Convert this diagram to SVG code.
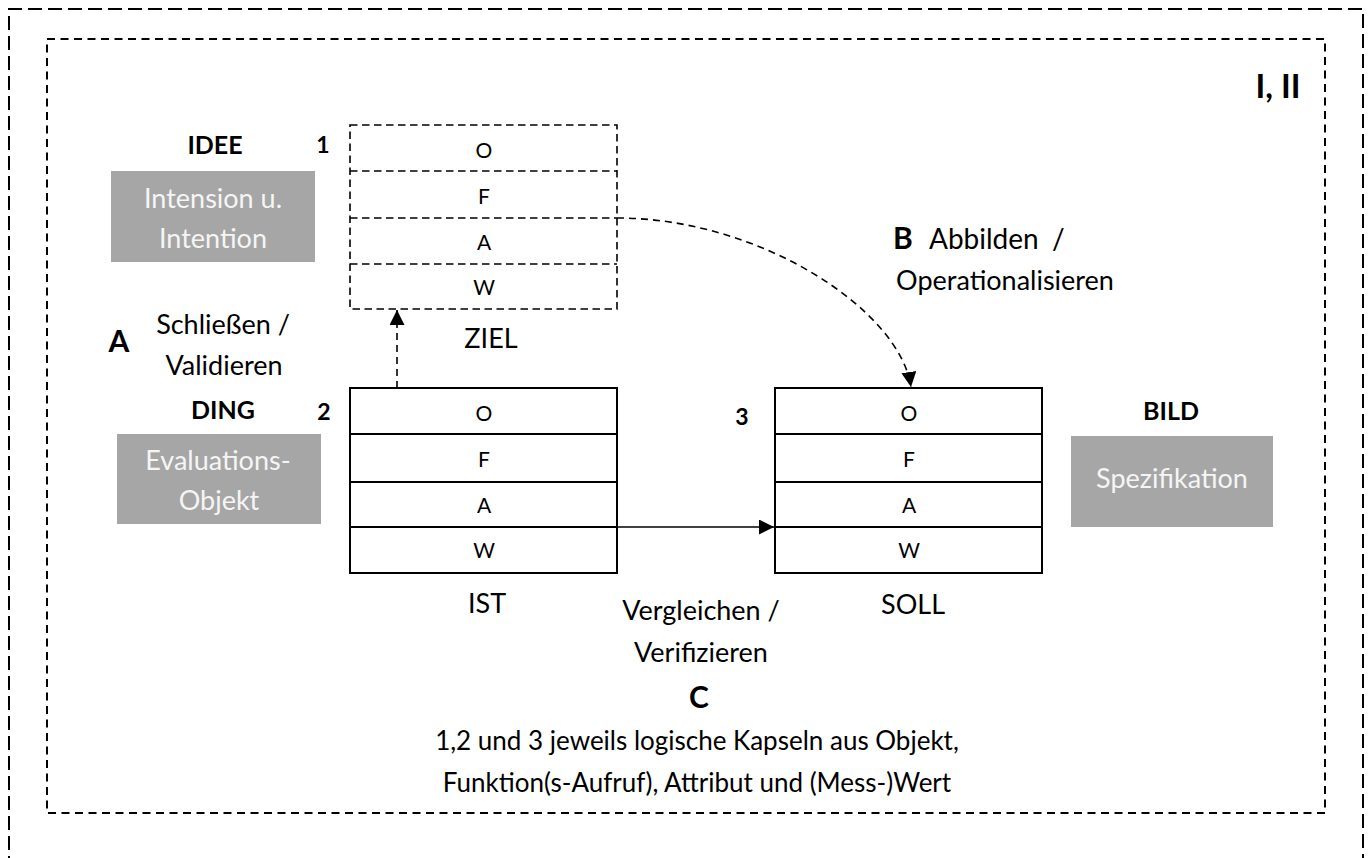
<svg xmlns="http://www.w3.org/2000/svg" width="1370" height="858" viewBox="0 0 1370 858">
<defs>
<style>
text{font-family:Lato,"Liberation Sans",sans-serif;fill:#000;text-anchor:middle}
.lbl{font-size:27px}
.foot{font-size:26px}
.row{font-size:21px}
.bold{font-weight:bold;font-size:25px}
.num{font-weight:bold;font-size:23px}
.big{font-weight:bold;font-size:30px}
.gray{fill:#a6a6a6;stroke:none}
.wt{fill:#f5f5f5;font-size:27px}
.solid{fill:#fff;stroke:#000;stroke-width:2}
.dbox{fill:none;stroke:#000;stroke-width:1.6;stroke-dasharray:7.5 4.5}
.conn{fill:none;stroke:#000;stroke-width:1.6}
.dash{stroke-dasharray:7 5}
</style>
<marker id="ah" markerUnits="userSpaceOnUse" markerWidth="15" markerHeight="15" viewBox="0 0 14 14" refX="14" refY="7" orient="auto">
<path d="M0,0 L14,7 L0,14 z" fill="#000"/>
</marker>
</defs>
<rect width="1370" height="858" fill="#fff"/>
<g id="outer-frame">
<path d="M9,870 V9 H1363 V870" fill="none" stroke="#000" stroke-width="2" stroke-dasharray="14 6"/>
</g>
<g id="inner-frame">
<rect x="47" y="39" width="1278" height="774" fill="none" stroke="#000" stroke-width="2" stroke-dasharray="8 5.5"/>
<text x="1278" y="98" class="big" style="font-size:33px">I, II</text>
</g>
<g id="idee">
<text x="215" y="154" class="bold">IDEE</text>
<text x="323" y="153" class="num">1</text>
<rect x="111" y="171" width="204" height="91" class="gray"/>
<text x="213" y="208" class="wt">Intension u.</text>
<text x="213" y="248" class="wt">Intention</text>
</g>
<g id="ziel">
<rect x="350" y="125" width="267" height="184" class="dbox"/>
<path d="M350,171 H617 M350,218 H617 M350,264 H617" class="dbox"/>
<text x="484" y="158" class="row">O</text>
<text x="484" y="204" class="row">F</text>
<text x="484" y="250" class="row">A</text>
<text x="484" y="295" class="row">W</text>
<text x="491" y="348" class="lbl">ZIEL</text>
</g>
<g id="ding">
<text x="223" y="419" class="bold">DING</text>
<text x="324" y="420" class="num">2</text>
<rect x="117" y="434" width="204" height="90" class="gray"/>
<text x="218" y="470" class="wt">Evaluations-</text>
<text x="219" y="510" class="wt">Objekt</text>
</g>
<g id="ist">
<rect x="350" y="388" width="267" height="185" class="solid"/>
<path d="M350,434 H617 M350,482 H617 M350,527 H617" class="conn" style="stroke-width:2"/>
<text x="484" y="421" class="row">O</text>
<text x="484" y="467" class="row">F</text>
<text x="484" y="513" class="row">A</text>
<text x="484" y="558" class="row">W</text>
<text x="487" y="613" class="lbl">IST</text>
</g>
<g id="soll">
<text x="742" y="425" class="num">3</text>
<rect x="775" y="388" width="267" height="185" class="solid"/>
<path d="M775,434 H1042 M775,482 H1042 M775,527 H1042" class="conn" style="stroke-width:2"/>
<text x="909" y="421" class="row">O</text>
<text x="909" y="467" class="row">F</text>
<text x="909" y="513" class="row">A</text>
<text x="909" y="558" class="row">W</text>
<text x="913" y="614" class="lbl">SOLL</text>
</g>
<g id="bild">
<text x="1171" y="420" class="bold">BILD</text>
<rect x="1071" y="436" width="202" height="91" class="gray"/>
<text x="1172" y="488" class="wt">Spezifikation</text>
</g>
<g id="connectors">
<path d="M397,388 V310" class="conn dash" marker-end="url(#ah)"/>
<path d="M617,218 C760,218 900,310 911,387" class="conn dash" marker-end="url(#ah)"/>
<path d="M617,527 H774" class="conn" marker-end="url(#ah)"/>
</g>
<g id="label-a">
<text x="119" y="352" class="big">A</text>
<text x="223" y="334" class="lbl">Schließen /</text>
<text x="224" y="375" class="lbl">Validieren</text>
</g>
<g id="label-b">
<text x="903" y="249" class="big">B</text>
<text x="929" y="249" class="lbl" style="text-anchor:start;font-size:28px">Abbilden<tspan x="1052">/</tspan></text>
<text x="1005" y="290" class="lbl">Operationalisieren</text>
</g>
<g id="label-c">
<text x="701" y="620" class="lbl">Vergleichen /</text>
<text x="701" y="662" class="lbl">Verifizieren</text>
<text x="699" y="708" class="big">C</text>
<text x="697" y="750" class="foot">1,2 und 3 jeweils logische Kapseln aus Objekt,</text>
<text x="697" y="792" class="foot">Funktion(s-Aufruf), Attribut und (Mess-)Wert</text>
</g>
</svg>
